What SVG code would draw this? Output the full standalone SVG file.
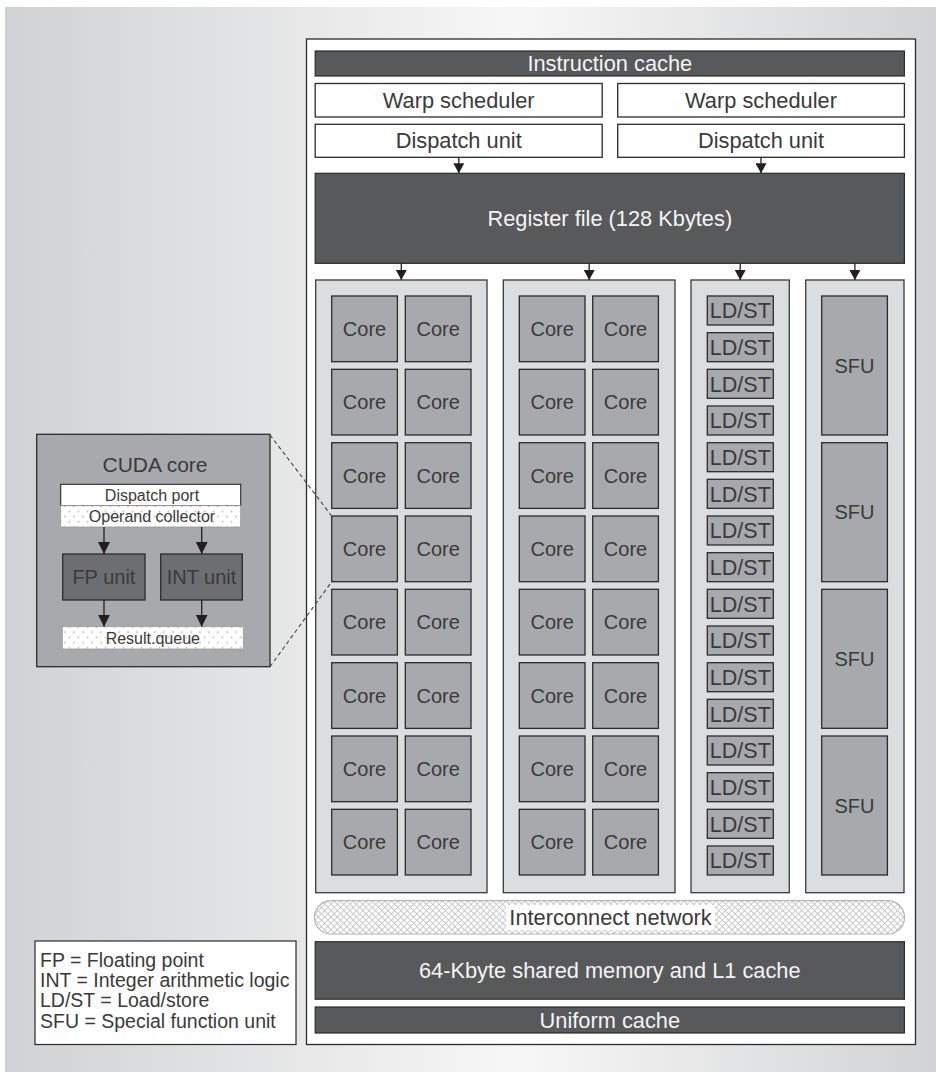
<svg xmlns="http://www.w3.org/2000/svg" width="936" height="1072" viewBox="0 0 936 1072">
<defs>
<linearGradient id="bg" x1="0" y1="0" x2="1" y2="0">
<stop offset="0" stop-color="#d1d2d4"/>
<stop offset="0.55" stop-color="#f7f7f7"/>
<stop offset="1" stop-color="#d2d3d5"/>
</linearGradient>
<pattern id="dots" width="9" height="10.5" patternUnits="userSpaceOnUse">
<rect width="9" height="10.5" fill="#ffffff"/>
<circle cx="2" cy="2.2" r="0.9" fill="#bdbdbd"/>
<circle cx="6.5" cy="7.4" r="0.9" fill="#bdbdbd"/>
</pattern>
<pattern id="mesh" width="4.5" height="4.5" patternUnits="userSpaceOnUse" patternTransform="rotate(45)">
<rect width="4.5" height="4.5" fill="#ffffff"/>
<path d="M0,0 H4.5 M0,0 V4.5" stroke="#c4c4c4" stroke-width="1.6"/>
</pattern>
<marker id="ah" viewBox="0 0 10 11" refX="10" refY="5.5" markerWidth="10" markerHeight="11" orient="auto" markerUnits="userSpaceOnUse">
<path d="M0,0 L10,5.5 L0,11 z" fill="#231f20"/>
</marker>
<marker id="ah2" viewBox="0 0 12 12" refX="12" refY="6" markerWidth="12" markerHeight="12" orient="auto" markerUnits="userSpaceOnUse">
<path d="M0,0 L12,6 L0,12 z" fill="#231f20"/>
</marker>
</defs>
<style>
text{font-family:"Liberation Sans",Arial,Helvetica,sans-serif;text-anchor:middle;fill:#3a3a3a}
.dark{fill:#58595b;stroke:#2b2b2b;stroke-width:1.2}
.dk{fill:#f4f4f4;font-size:21.8px}
.wbox{fill:#ffffff;stroke:#2b2b2b;stroke-width:1.3}
.t21{font-size:21.8px}
.col{fill:#dcdddf;stroke:#3a3a3a;stroke-width:1.3}
.unit{fill:#a7a9ac;stroke:#2b2b2b;stroke-width:1.3}
.t20{font-size:20px}
.ls{font-size:21.5px}
.t16{font-size:16px}
.fpu{fill:#6d6e71;stroke:#2b2b2b;stroke-width:1.3}
.conn{stroke:#231f20;stroke-width:1.3;fill:none}
.dash{stroke:#444;stroke-width:1.1;stroke-dasharray:4 3;fill:none}
.leg{font-size:19.5px;text-anchor:start}
</style>

<rect x="5" y="7" width="931" height="1065" fill="url(#bg)"/>

<g id="sm-panel">
<rect x="306.5" y="39" width="609" height="1005.5" fill="#ffffff" stroke="#2b2b2b" stroke-width="1.3"/>
</g>

<g id="instruction-cache">
<rect class="dark" x="315.2" y="51" width="589.2" height="25"/>
<text class="dk" x="609.8" y="71.3">Instruction cache</text>
</g>
<g id="warp-scheduler-1">
<rect class="wbox" x="315.2" y="83.5" width="287" height="33.5"/>
<text class="t21" x="458.7" y="107.8">Warp scheduler</text>
</g>
<g id="warp-scheduler-2">
<rect class="wbox" x="617.7" y="83.5" width="286.7" height="33.5"/>
<text class="t21" x="761" y="107.8">Warp scheduler</text>
</g>
<g id="dispatch-unit-1">
<rect class="wbox" x="315.2" y="124.3" width="287" height="33"/>
<text class="t21" x="458.7" y="148.3">Dispatch unit</text>
</g>
<g id="dispatch-unit-2">
<rect class="wbox" x="617.7" y="124.3" width="286.7" height="33"/>
<text class="t21" x="761" y="148.3">Dispatch unit</text>
</g>
<g id="register-file">
<rect class="dark" x="315.2" y="173.3" width="589.2" height="90"/>
<text class="dk" x="609.8" y="225.8">Register file (128 Kbytes)</text>
</g>

<g id="core-column-1"><rect class="col" x="315.7" y="280" width="171.3" height="612.7"/></g>
<g id="core-column-2"><rect class="col" x="503.3" y="280" width="171.7" height="612.7"/></g>
<g id="ldst-column"><rect class="col" x="691" y="280" width="98.3" height="612.7"/></g>
<g id="sfu-column"><rect class="col" x="805.7" y="280" width="98.3" height="612.7"/></g>

<g id="cores">
<g id="core-1-1"><rect class="unit" x="331.7" y="296" width="65.7" height="65.7"/><text class="t20" x="364.5" y="336">Core</text></g>
<g id="core-1-2"><rect class="unit" x="405.3" y="296" width="65.7" height="65.7"/><text class="t20" x="438.2" y="336">Core</text></g>
<g id="core-1-3"><rect class="unit" x="519.3" y="296" width="65.7" height="65.7"/><text class="t20" x="552.2" y="336">Core</text></g>
<g id="core-1-4"><rect class="unit" x="592.7" y="296" width="65.7" height="65.7"/><text class="t20" x="625.5" y="336">Core</text></g>
<g id="core-2-1"><rect class="unit" x="331.7" y="369.3" width="65.7" height="65.7"/><text class="t20" x="364.5" y="409.3">Core</text></g>
<g id="core-2-2"><rect class="unit" x="405.3" y="369.3" width="65.7" height="65.7"/><text class="t20" x="438.2" y="409.3">Core</text></g>
<g id="core-2-3"><rect class="unit" x="519.3" y="369.3" width="65.7" height="65.7"/><text class="t20" x="552.2" y="409.3">Core</text></g>
<g id="core-2-4"><rect class="unit" x="592.7" y="369.3" width="65.7" height="65.7"/><text class="t20" x="625.5" y="409.3">Core</text></g>
<g id="core-3-1"><rect class="unit" x="331.7" y="442.7" width="65.7" height="65.7"/><text class="t20" x="364.5" y="482.7">Core</text></g>
<g id="core-3-2"><rect class="unit" x="405.3" y="442.7" width="65.7" height="65.7"/><text class="t20" x="438.2" y="482.7">Core</text></g>
<g id="core-3-3"><rect class="unit" x="519.3" y="442.7" width="65.7" height="65.7"/><text class="t20" x="552.2" y="482.7">Core</text></g>
<g id="core-3-4"><rect class="unit" x="592.7" y="442.7" width="65.7" height="65.7"/><text class="t20" x="625.5" y="482.7">Core</text></g>
<g id="core-4-1"><rect class="unit" x="331.7" y="516" width="65.7" height="65.7"/><text class="t20" x="364.5" y="556">Core</text></g>
<g id="core-4-2"><rect class="unit" x="405.3" y="516" width="65.7" height="65.7"/><text class="t20" x="438.2" y="556">Core</text></g>
<g id="core-4-3"><rect class="unit" x="519.3" y="516" width="65.7" height="65.7"/><text class="t20" x="552.2" y="556">Core</text></g>
<g id="core-4-4"><rect class="unit" x="592.7" y="516" width="65.7" height="65.7"/><text class="t20" x="625.5" y="556">Core</text></g>
<g id="core-5-1"><rect class="unit" x="331.7" y="589.3" width="65.7" height="65.7"/><text class="t20" x="364.5" y="629.3">Core</text></g>
<g id="core-5-2"><rect class="unit" x="405.3" y="589.3" width="65.7" height="65.7"/><text class="t20" x="438.2" y="629.3">Core</text></g>
<g id="core-5-3"><rect class="unit" x="519.3" y="589.3" width="65.7" height="65.7"/><text class="t20" x="552.2" y="629.3">Core</text></g>
<g id="core-5-4"><rect class="unit" x="592.7" y="589.3" width="65.7" height="65.7"/><text class="t20" x="625.5" y="629.3">Core</text></g>
<g id="core-6-1"><rect class="unit" x="331.7" y="662.7" width="65.7" height="65.7"/><text class="t20" x="364.5" y="702.7">Core</text></g>
<g id="core-6-2"><rect class="unit" x="405.3" y="662.7" width="65.7" height="65.7"/><text class="t20" x="438.2" y="702.7">Core</text></g>
<g id="core-6-3"><rect class="unit" x="519.3" y="662.7" width="65.7" height="65.7"/><text class="t20" x="552.2" y="702.7">Core</text></g>
<g id="core-6-4"><rect class="unit" x="592.7" y="662.7" width="65.7" height="65.7"/><text class="t20" x="625.5" y="702.7">Core</text></g>
<g id="core-7-1"><rect class="unit" x="331.7" y="736" width="65.7" height="65.7"/><text class="t20" x="364.5" y="776">Core</text></g>
<g id="core-7-2"><rect class="unit" x="405.3" y="736" width="65.7" height="65.7"/><text class="t20" x="438.2" y="776">Core</text></g>
<g id="core-7-3"><rect class="unit" x="519.3" y="736" width="65.7" height="65.7"/><text class="t20" x="552.2" y="776">Core</text></g>
<g id="core-7-4"><rect class="unit" x="592.7" y="736" width="65.7" height="65.7"/><text class="t20" x="625.5" y="776">Core</text></g>
<g id="core-8-1"><rect class="unit" x="331.7" y="809.3" width="65.7" height="65.7"/><text class="t20" x="364.5" y="849.3">Core</text></g>
<g id="core-8-2"><rect class="unit" x="405.3" y="809.3" width="65.7" height="65.7"/><text class="t20" x="438.2" y="849.3">Core</text></g>
<g id="core-8-3"><rect class="unit" x="519.3" y="809.3" width="65.7" height="65.7"/><text class="t20" x="552.2" y="849.3">Core</text></g>
<g id="core-8-4"><rect class="unit" x="592.7" y="809.3" width="65.7" height="65.7"/><text class="t20" x="625.5" y="849.3">Core</text></g>
</g>

<g id="ldst-units">
<g id="ldst-1"><rect class="unit" x="707.3" y="296" width="66" height="29"/><text class="ls" x="740.3" y="318.2">LD/ST</text></g>
<g id="ldst-2"><rect class="unit" x="707.3" y="332.7" width="66" height="29"/><text class="ls" x="740.3" y="354.9">LD/ST</text></g>
<g id="ldst-3"><rect class="unit" x="707.3" y="369.3" width="66" height="29"/><text class="ls" x="740.3" y="391.5">LD/ST</text></g>
<g id="ldst-4"><rect class="unit" x="707.3" y="406" width="66" height="29"/><text class="ls" x="740.3" y="428.2">LD/ST</text></g>
<g id="ldst-5"><rect class="unit" x="707.3" y="442.7" width="66" height="29"/><text class="ls" x="740.3" y="464.9">LD/ST</text></g>
<g id="ldst-6"><rect class="unit" x="707.3" y="479.3" width="66" height="29"/><text class="ls" x="740.3" y="501.5">LD/ST</text></g>
<g id="ldst-7"><rect class="unit" x="707.3" y="516" width="66" height="29"/><text class="ls" x="740.3" y="538.2">LD/ST</text></g>
<g id="ldst-8"><rect class="unit" x="707.3" y="552.7" width="66" height="29"/><text class="ls" x="740.3" y="574.9">LD/ST</text></g>
<g id="ldst-9"><rect class="unit" x="707.3" y="589.3" width="66" height="29"/><text class="ls" x="740.3" y="611.5">LD/ST</text></g>
<g id="ldst-10"><rect class="unit" x="707.3" y="626" width="66" height="29"/><text class="ls" x="740.3" y="648.2">LD/ST</text></g>
<g id="ldst-11"><rect class="unit" x="707.3" y="662.7" width="66" height="29"/><text class="ls" x="740.3" y="684.9">LD/ST</text></g>
<g id="ldst-12"><rect class="unit" x="707.3" y="699.3" width="66" height="29"/><text class="ls" x="740.3" y="721.5">LD/ST</text></g>
<g id="ldst-13"><rect class="unit" x="707.3" y="736" width="66" height="29"/><text class="ls" x="740.3" y="758.2">LD/ST</text></g>
<g id="ldst-14"><rect class="unit" x="707.3" y="772.7" width="66" height="29"/><text class="ls" x="740.3" y="794.9">LD/ST</text></g>
<g id="ldst-15"><rect class="unit" x="707.3" y="809.3" width="66" height="29"/><text class="ls" x="740.3" y="831.5">LD/ST</text></g>
<g id="ldst-16"><rect class="unit" x="707.3" y="846" width="66" height="29"/><text class="ls" x="740.3" y="868.2">LD/ST</text></g>
</g>

<g id="sfu-units">
<g id="sfu-1"><rect class="unit" x="821.7" y="296" width="65.7" height="139"/><text class="t20" x="854.5" y="372.5">SFU</text></g>
<g id="sfu-2"><rect class="unit" x="821.7" y="442.7" width="65.7" height="139"/><text class="t20" x="854.5" y="519.2">SFU</text></g>
<g id="sfu-3"><rect class="unit" x="821.7" y="589.3" width="65.7" height="139"/><text class="t20" x="854.5" y="665.8">SFU</text></g>
<g id="sfu-4"><rect class="unit" x="821.7" y="736" width="65.7" height="139"/><text class="t20" x="854.5" y="812.5">SFU</text></g>
</g>

<g id="interconnect-network">
<rect x="314.5" y="900.7" width="590" height="33.3" rx="16.6" fill="url(#mesh)" stroke="#b5b5b5" stroke-width="1.2"/>
<rect x="506" y="905" width="209" height="25" fill="#ffffff"/>
<text class="t21" x="610.5" y="925.3">Interconnect network</text>
</g>
<g id="shared-memory">
<rect class="dark" x="315.2" y="941.7" width="589.2" height="57.5"/>
<text class="dk" x="609.8" y="978.3">64-Kbyte shared memory and L1 cache</text>
</g>
<g id="uniform-cache">
<rect class="dark" x="315.2" y="1007" width="589.2" height="26"/>
<text class="dk" x="609.8" y="1027.8">Uniform cache</text>
</g>

<g id="cuda-core-detail">
<rect x="36.7" y="434.3" width="233.3" height="232.4" fill="#a7a9ac" stroke="#2b2b2b" stroke-width="1.3"/>
<text class="t21" x="155" y="471.8" style="font-size:21px">CUDA core</text>
<g id="dispatch-port">
<rect x="60.7" y="484.3" width="180" height="21.4" fill="#ffffff" stroke="#2b2b2b" stroke-width="1.1"/>
<text class="t16" x="152" y="500.8">Dispatch port</text>
</g>
<g id="operand-collector">
<rect x="60.7" y="505.7" width="180" height="21.3" fill="url(#dots)" stroke="#9a9a9a" stroke-width="0.8"/>
<text class="t16" x="152" y="522">Operand collector</text>
</g>
<g id="fp-unit">
<rect class="fpu" x="62.7" y="554" width="82.3" height="46"/>
<text class="t20" x="103.9" y="584.2">FP unit</text>
</g>
<g id="int-unit">
<rect class="fpu" x="160.7" y="554" width="81.6" height="46"/>
<text class="t20" x="201.5" y="584.2">INT unit</text>
</g>
<g id="result-queue">
<rect x="62.3" y="626.7" width="181" height="22.3" fill="url(#dots)" stroke="#9a9a9a" stroke-width="0.8"/>
<text class="t16" x="152.8" y="643.6">Result.queue</text>
</g>
</g>

<g id="legend">
<rect x="35" y="941" width="261" height="103.5" fill="#ffffff" stroke="#2b2b2b" stroke-width="1.2"/>
<text class="leg" x="40" y="966.5">FP = Floating point</text>
<text class="leg" x="40" y="987">INT = Integer arithmetic logic</text>
<text class="leg" x="40" y="1007">LD/ST = Load/store</text>
<text class="leg" x="40" y="1027.5">SFU = Special function unit</text>
</g>

<g id="connectors">
<line class="conn" x1="458.8" y1="157.3" x2="458.8" y2="173.3" marker-end="url(#ah)"/>
<line class="conn" x1="761" y1="157.3" x2="761" y2="173.3" marker-end="url(#ah)"/>
<line class="conn" x1="401.3" y1="263.3" x2="401.3" y2="280" marker-end="url(#ah)"/>
<line class="conn" x1="589.2" y1="263.3" x2="589.2" y2="280" marker-end="url(#ah)"/>
<line class="conn" x1="740.2" y1="263.3" x2="740.2" y2="280" marker-end="url(#ah)"/>
<line class="conn" x1="854.9" y1="263.3" x2="854.9" y2="280" marker-end="url(#ah)"/>
<line class="conn" x1="104" y1="527" x2="104" y2="554" marker-end="url(#ah2)"/>
<line class="conn" x1="201.7" y1="527" x2="201.7" y2="554" marker-end="url(#ah2)"/>
<line class="conn" x1="104" y1="600" x2="104" y2="626.7" marker-end="url(#ah2)"/>
<line class="conn" x1="201.7" y1="600" x2="201.7" y2="626.7" marker-end="url(#ah2)"/>
<line class="dash" x1="270" y1="435" x2="331.7" y2="516"/>
<line class="dash" x1="270" y1="666.7" x2="331.7" y2="581.7"/>
</g>
</svg>
